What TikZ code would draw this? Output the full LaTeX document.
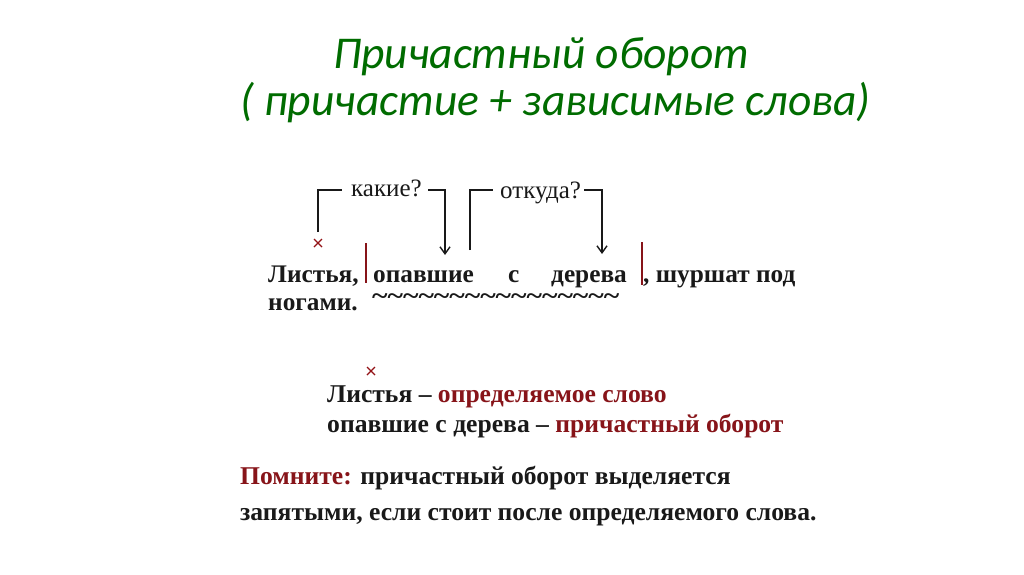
\documentclass[tikz,border=0pt]{standalone}
\usepackage{fontspec}
\usepackage{graphicx}
\setmainfont{Liberation Serif}
\newfontfamily\titlefont{Carlito}
\usetikzlibrary{arrows.meta}
\definecolor{titlegreen}{RGB}{0,108,0}
\definecolor{darkred}{RGB}{135,20,25}
\definecolor{ink}{RGB}{25,25,25}
\tikzset{
  txt/.style={inner sep=0pt, anchor=base west, text=ink, font=\bfseries\fontsize{25.6}{30}\selectfont},
  stxt/.style={inner sep=0pt, anchor=base west, text=ink, font=\bfseries\fontsize{25.3}{30}\selectfont},
  qtxt/.style={inner sep=0pt, anchor=base west, text=ink, font=\fontsize{25}{29}\selectfont},
  ttl/.style={inner sep=0pt, anchor=base west, text=titlegreen, font=\titlefont\itshape\fontsize{45.5}{52}\selectfont},
  bar/.style={draw=darkred, line width=2.4pt},
  brk/.style={draw=ink, line width=1.4pt},
  arr/.style={brk, -{Straight Barb[length=7pt,width=10pt,line width=1.4pt]}},
  crs/.style={draw=darkred!90!red, line width=1.3pt},
}
\begin{document}
\begin{tikzpicture}[x=1pt,y=-1pt]
\useasboundingbox[fill=white] (0,0) rectangle (1024,574);
% title
\node[ttl] (t1) at (333,68) {Причастный оборот};
\node[ttl] (t2) at (240,115) {( причастие + зависимые слова)};
% questions
\node[qtxt] (q1) at (351,196) {какие?};
\node[qtxt] (q2) at (500,198) {откуда?};
% sentence
\node[stxt] (w1) at (268,282) {Листья,};
\node[stxt] (w2) at (373,282) {опавшие};
\node[stxt] (w3) at (508,282) {с};
\node[stxt] (w4) at (551,282) {дерева};
\node[stxt] (w5) at (643,282) {, шуршат под};
\node[stxt] (w6) at (268,310) {ногами.};
\node[inner sep=0pt, anchor=base west, text=ink, font=\bfseries\fontsize{25.6}{30}\selectfont] (tl) at (372,304) {\smash{\scalebox{1.16}[1]{\symbol{126}\symbol{126}\symbol{126}\symbol{126}\symbol{126}\symbol{126}\symbol{126}\symbol{126}\symbol{126}\symbol{126}\symbol{126}\symbol{126}\symbol{126}\symbol{126}\symbol{126}\symbol{126}}}};
% bars
\draw[bar] (366,243) -- (366,283);
\draw[bar] (642,242) -- (642,285);
% brackets and arrows
\coordinate (a1) at (318,232);
\coordinate (a2) at (342,190);
\coordinate (a3) at (428,190);
\coordinate (a4) at (445,255);
\draw[brk] (a1) |- (a2);
\draw[arr] (a3) -| (a4);
\coordinate (b1) at (470,250);
\coordinate (b2) at (493,190);
\coordinate (b3) at (584,190);
\coordinate (b4) at (602,254);
\draw[brk] (b1) |- (b2);
\draw[arr] (b3) -| (b4);
% crosses
\coordinate (x1) at (318,243);
\coordinate (x2) at (371,371);
\foreach \c in {x1,x2}{
  \draw[crs] ([shift={(-4,-4)}]\c) -- ([shift={(4,4)}]\c);
  \draw[crs] ([shift={(-4,4)}]\c) -- ([shift={(4,-4)}]\c);
}
% definitions
\node[txt] (d1) at (327,402) {Листья – \textcolor{darkred}{определяемое слово}};
\node[txt] (d2) at (327,432) {опавшие с дерева – \textcolor{darkred}{причастный оборот}};
% rule
\node[txt] (r1) at (240,484) {\textcolor{darkred}{Помните:} причастный оборот выделяется};
\node[txt] (r2) at (240,520) {запятыми, если стоит после определяемого слова.};
\end{tikzpicture}
\end{document}
